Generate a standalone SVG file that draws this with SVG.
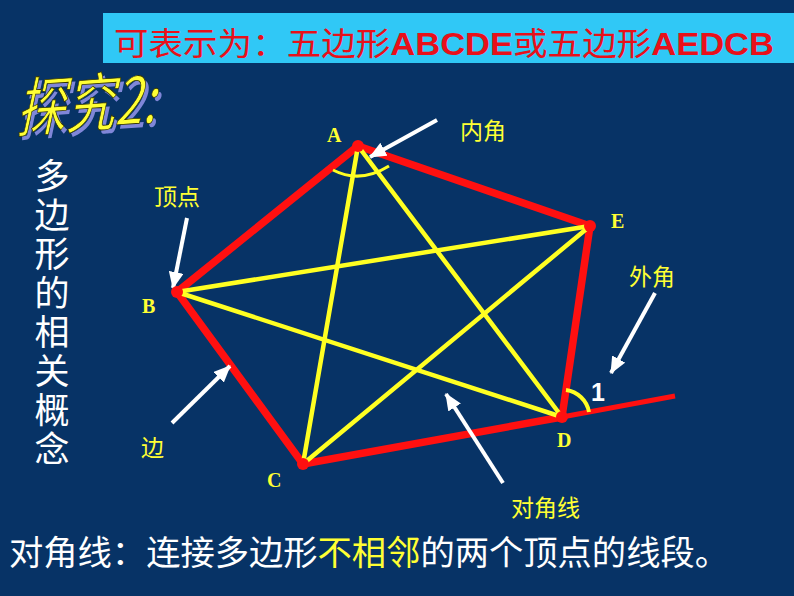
<svg xmlns="http://www.w3.org/2000/svg" width="794" height="596" viewBox="0 0 794 596">
<style>
.cjk{font-family:"Noto Sans CJK SC","Noto Sans",sans-serif}
.lbl{font-family:"Noto Sans CJK SC",sans-serif;font-size:23px;fill:#ffff33}
.vtx{font-family:"Liberation Serif",serif;font-weight:bold;font-size:20px;fill:#ffff33}
.edge{fill:none;stroke:#ff1010;stroke-width:7.5;stroke-linejoin:round;stroke-linecap:round}
.diag{stroke:#ffff22;stroke-width:4.5;stroke-linecap:round}
.arr{stroke:#ffffff;stroke-width:4;marker-end:url(#ah)}
.dot{fill:#ff1010}
</style>
<defs>
<marker id="ah" viewBox="0 0 16 14" refX="15" refY="7" markerWidth="17" markerHeight="15" orient="auto" markerUnits="userSpaceOnUse">
<path d="M0,0 L16,7 L0,14 z" fill="#ffffff"/>
</marker>
</defs>
<rect width="794" height="596" fill="#073366"/>
<g id="banner">
<rect x="103" y="13" width="691" height="50" fill="#30c8f6"/>
<text class="cjk" x="114" y="55" font-size="32" fill="#e8101a" textLength="660" lengthAdjust="spacingAndGlyphs">可表示为：五边形<tspan font-family="Liberation Sans,sans-serif" font-weight="bold">ABCDE</tspan>或五边形<tspan font-family="Liberation Sans,sans-serif" font-weight="bold">AEDCB</tspan></text>
</g>
<g id="title" transform="translate(16,132) rotate(-4) skewX(-16)">
<text class="cjk" x="4" y="4" font-size="64" fill="#7f86d8" textLength="140" lengthAdjust="spacingAndGlyphs">探究2:</text>
<text class="cjk" x="0" y="0" font-size="64" fill="#ffff33" stroke="#333300" stroke-width="0.8" textLength="140" lengthAdjust="spacingAndGlyphs">探究2:</text>
</g>
<g id="vertical-title">
<text class="cjk" x="52" y="158" font-size="35" fill="#ffffff" writing-mode="vertical-rl" letter-spacing="4">多边形的相关概念</text>
</g>
<g id="pentagon">
<polygon class="edge" points="358,146 177,292 303,464 562,417 590,226"/>
<line x1="562" y1="417" x2="675" y2="396" stroke="#ff1010" stroke-width="5"/>
</g>
<g id="connectors">
<line class="diag" x1="358" y1="146" x2="303" y2="464"/>
<line class="diag" x1="358" y1="146" x2="562" y2="417"/>
<line class="diag" x1="177" y1="292" x2="590" y2="226"/>
<line class="diag" x1="177" y1="292" x2="562" y2="417"/>
<line class="diag" x1="303" y1="464" x2="590" y2="226"/>
<line class="arr" x1="437" y1="120" x2="370" y2="157"/>
<line class="arr" x1="187" y1="218" x2="173" y2="288"/>
<line class="arr" x1="172" y1="423" x2="230" y2="366"/>
<line class="arr" x1="503" y1="483" x2="446" y2="394"/>
<line class="arr" x1="655" y1="293" x2="611" y2="373"/>
</g>
<g id="angles">
<path d="M333,170 Q360,184 389,166" fill="none" stroke="#ffff22" stroke-width="3"/>
<path d="M566,390 A27,27 0 0 1 589,412" fill="none" stroke="#ffff22" stroke-width="4"/>
<text x="591" y="401" font-family="Liberation Sans,sans-serif" font-weight="bold" font-size="25" fill="#ffffff">1</text>
</g>
<g id="vertex-A"><circle class="dot" cx="358" cy="146" r="6"/><text class="vtx" x="327" y="142">A</text></g>
<g id="vertex-B"><circle class="dot" cx="177" cy="292" r="6"/><text class="vtx" x="142" y="313">B</text></g>
<g id="vertex-C"><circle class="dot" cx="303" cy="464" r="6"/><text class="vtx" x="267" y="487">C</text></g>
<g id="vertex-D"><circle class="dot" cx="562" cy="417" r="6"/><text class="vtx" x="557" y="447">D</text></g>
<g id="vertex-E"><circle class="dot" cx="590" cy="226" r="6"/><text class="vtx" x="611" y="228">E</text></g>
<g id="labels">
<text class="lbl" x="460" y="139">内角</text>
<text class="lbl" x="154" y="205">顶点</text>
<text class="lbl" x="629" y="285">外角</text>
<text class="lbl" x="141" y="456">边</text>
<text class="lbl" x="511" y="516">对角线</text>
</g>
<g id="definition">
<text class="cjk" x="9" y="565" font-size="34" fill="#ffffff" textLength="720" lengthAdjust="spacingAndGlyphs">对角线：连接多边形<tspan fill="#ffff33">不相邻</tspan>的两个顶点的线段。</text>
</g>
</svg>
